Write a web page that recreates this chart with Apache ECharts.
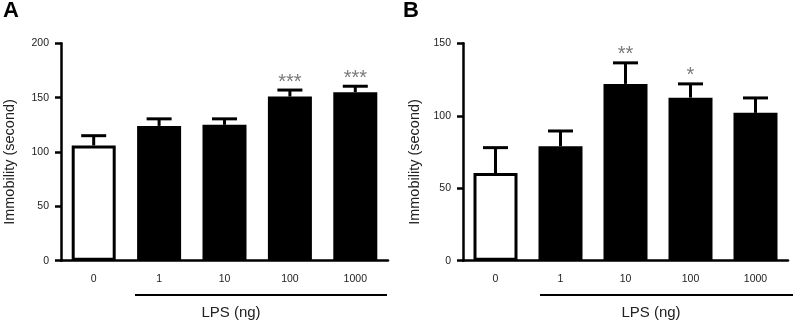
<!DOCTYPE html>
<html>
<head>
<meta charset="utf-8">
<script src="https://cdn.jsdelivr.net/npm/echarts@6/dist/echarts.min.js"></script>
<style>
html,body{margin:0;padding:0;background:#fff;}
#c{width:794px;height:324px;}
</style>
</head>
<body>
<div id="c"></div>
<script>
const categories = ['0', '1', '10', '100', '1000'];
const meanA = [106, 124, 125, 151, 155];
const errTopA = [115, 130.5, 130.5, 157, 160.5];
const sigA = ['', '', '', '***', '***'];
const meanB = [60.5, 79, 122, 112.5, 102];
const errTopB = [78, 89.5, 136.5, 122, 112.3];
const sigB = ['', '', '**', '*', ''];
const ticksA = { min: 0, max: 200, interval: 50 };
const ticksB = { min: 0, max: 150, interval: 50 };

const FONT = '"Liberation Sans", Arial, Helvetica, sans-serif';
const chart = echarts.init(document.getElementById('c'), null, { renderer: 'canvas' });

function barData(vals) {
  return vals.map((v, i) => ({
    value: v,
    itemStyle: { color: i === 0 ? '#fff' : '#000', borderColor: '#000', borderWidth: 3 }
  }));
}
function errData(mean, top) {
  return mean.map((m, i) => [i, m, top[i]]);
}
function errRender(sig) {
  return function (params, api) {
    const base = api.coord([api.value(0), api.value(1)]);
    const top = api.coord([api.value(0), api.value(2)]);
    const half = 12.5;
    const st = { stroke: '#000', lineWidth: 3 };
    const children = [
      { type: 'line', shape: { x1: base[0], y1: base[1], x2: top[0], y2: top[1] }, style: st },
      { type: 'line', shape: { x1: top[0] - half, y1: top[1], x2: top[0] + half, y2: top[1] }, style: st }
    ];
    const s = sig[params.dataIndex];
    if (s) {
      children.push({
        type: 'text',
        style: {
          text: s, x: top[0], y: top[1] + 2,
          align: 'center', verticalAlign: 'bottom',
          fill: '#7a7a7a', font: '20px ' + FONT
        }
      });
    }
    return { type: 'group', children: children };
  };
}

function xAxis(gi) {
  return {
    type: 'category', gridIndex: gi, data: categories, boundaryGap: true,
    axisLine: { lineStyle: { color: '#000', width: 2.5 } },
    axisTick: { alignWithLabel: true, length: 5, lineStyle: { color: '#000', width: 2.5 } },
    axisLabel: { color: '#222', fontSize: 10.5, fontFamily: FONT, margin: 13 },
    splitLine: { show: false }
  };
}
function yAxis(gi, t) {
  return {
    type: 'value', gridIndex: gi, min: t.min, max: t.max, interval: t.interval,
    axisLine: { show: true, lineStyle: { color: '#000', width: 2.5 } },
    axisTick: { show: true, length: 6, lineStyle: { color: '#000', width: 2.5 } },
    axisLabel: { color: '#222', fontSize: 10.5, fontFamily: FONT, margin: 12 },
    splitLine: { show: false }
  };
}

chart.setOption({
  animation: false,
  backgroundColor: '#fff',
  grid: [
    { left: 61, top: 43.3, width: 327, height: 217.4 },
    { left: 463, top: 43.3, width: 325, height: 217.4 }
  ],
  xAxis: [xAxis(0), xAxis(1)],
  yAxis: [yAxis(0, ticksA), yAxis(1, ticksB)],
  series: [
    { type: 'bar', xAxisIndex: 0, yAxisIndex: 0, data: barData(meanA), barWidth: 44, z: 2 },
    { type: 'bar', xAxisIndex: 1, yAxisIndex: 1, data: barData(meanB), barWidth: 44, z: 2 },
    { type: 'custom', xAxisIndex: 0, yAxisIndex: 0, data: errData(meanA, errTopA), renderItem: errRender(sigA), z: 3 },
    { type: 'custom', xAxisIndex: 1, yAxisIndex: 1, data: errData(meanB, errTopB), renderItem: errRender(sigB), z: 3 }
  ],
  graphic: [
    { type: 'text', left: 3, top: 0, style: { text: 'A', font: 'bold 22px ' + FONT, fill: '#000' } },
    { type: 'text', left: 403, top: 0, style: { text: 'B', font: 'bold 22px ' + FONT, fill: '#000' } },
    { type: 'text', x: 10, y: 162, rotation: Math.PI / 2,
      style: { text: 'Immobility (second)', font: '14.5px ' + FONT, fill: '#222', align: 'center', verticalAlign: 'middle' } },
    { type: 'text', x: 415, y: 162, rotation: Math.PI / 2,
      style: { text: 'Immobility (second)', font: '14.5px ' + FONT, fill: '#222', align: 'center', verticalAlign: 'middle' } },
    { type: 'line', shape: { x1: 135, y1: 295, x2: 387, y2: 295 }, style: { stroke: '#000', lineWidth: 2 } },
    { type: 'line', shape: { x1: 540, y1: 295, x2: 793, y2: 295 }, style: { stroke: '#000', lineWidth: 2 } },
    { type: 'text', x: 231, y: 313, style: { text: 'LPS (ng)', font: '15px ' + FONT, fill: '#222', align: 'center', verticalAlign: 'middle' } },
    { type: 'text', x: 651, y: 313, style: { text: 'LPS (ng)', font: '15px ' + FONT, fill: '#222', align: 'center', verticalAlign: 'middle' } }
  ]
});
</script>
</body>
</html>
